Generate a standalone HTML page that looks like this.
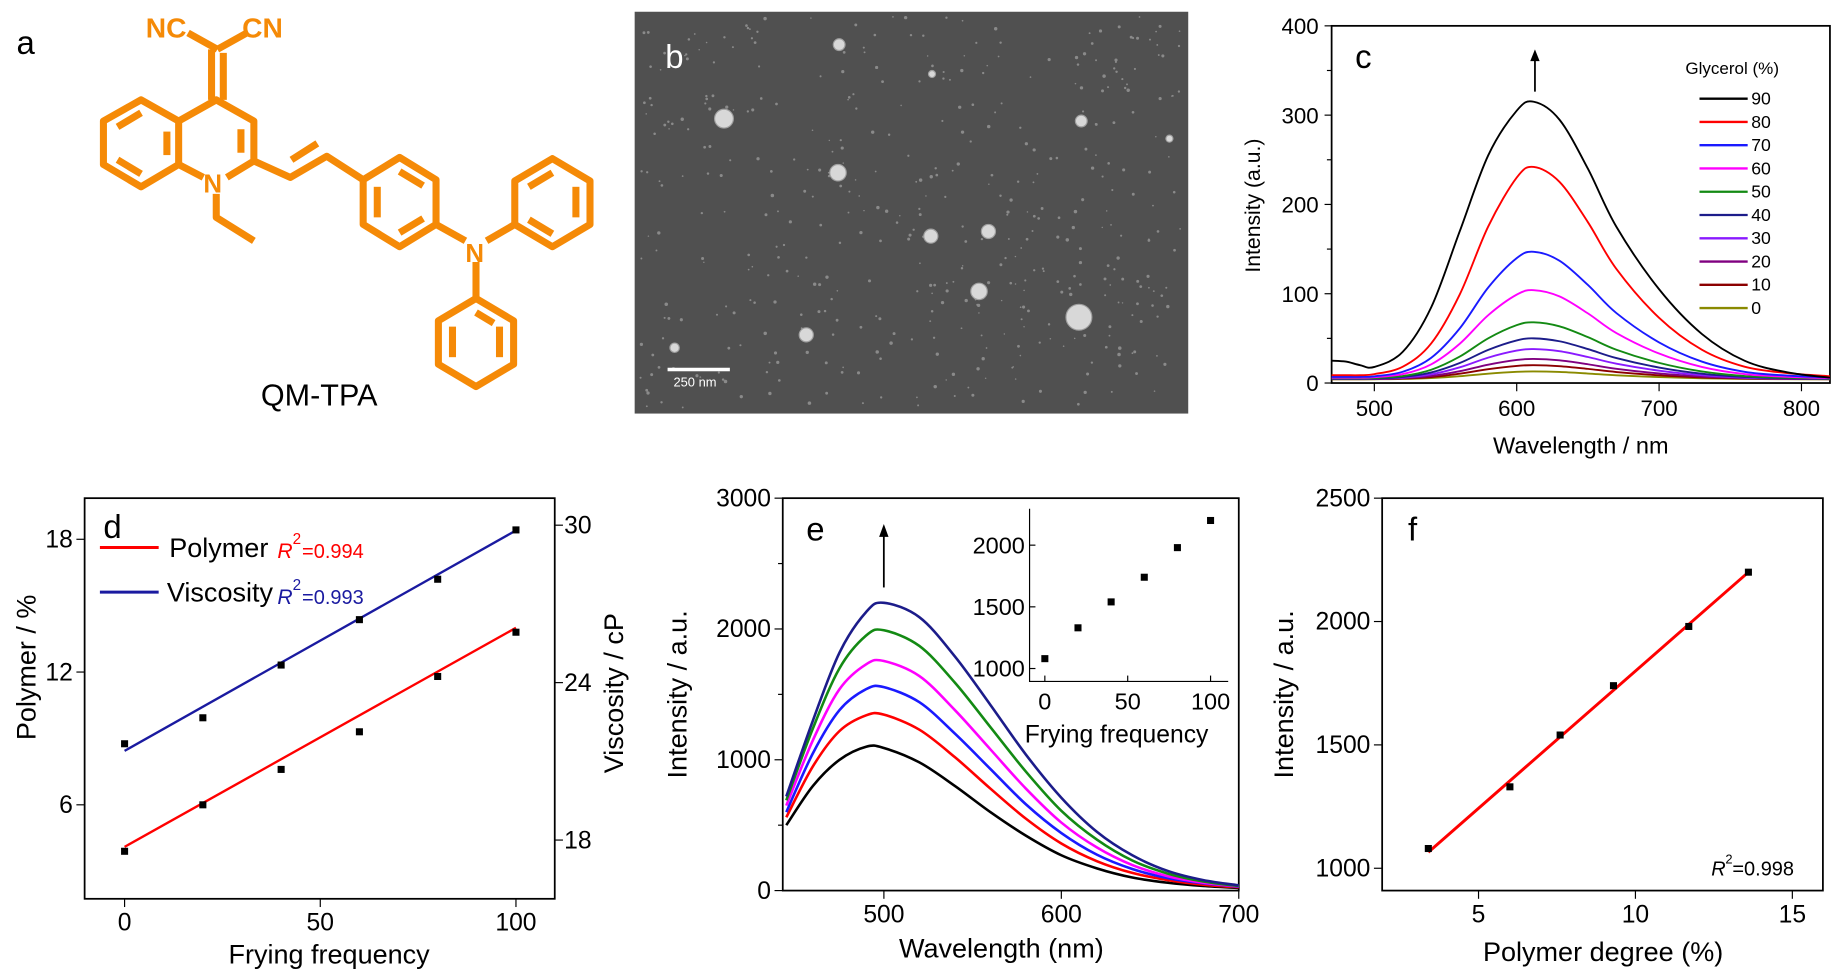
<!DOCTYPE html>
<html><head><meta charset="utf-8"><style>
html,body{margin:0;padding:0;background:#fff;}
svg{display:block;font-family:"Liberation Sans",sans-serif;}
</style></head><body>
<svg id="fig" width="1837" height="974" viewBox="0 0 1563 829" preserveAspectRatio="none">
<g id="pa" stroke="#f58a07" stroke-width="6" fill="none" stroke-linejoin="round">
<polygon points="120,85 152,103 152,140 120,159 88,140 88,103"/>
<polyline points="152,103 184,85 216,103 216,137 193,151"/>
<line x1="173" y1="151" x2="152" y2="140"/>
<line x1="100" y1="108" x2="120" y2="96"/><line x1="142" y1="112" x2="142" y2="132"/><line x1="100" y1="136" x2="120" y2="148"/>
<line x1="205" y1="110" x2="205" y2="130"/>
<line x1="180" y1="85" x2="180" y2="42"/><line x1="190" y1="85" x2="190" y2="45"/>
<line x1="185" y1="42" x2="160" y2="28"/><line x1="185" y1="42" x2="210" y2="28"/>
<polyline points="184,165 184,185 216,205"/>
<polyline points="216,137 247,151 278,133 309,153"/>
<line x1="248" y1="136" x2="270" y2="122"/>
<polygon points="340,134 371,153 371,191 340,210 309,191 309,153"/>
<line x1="321" y1="159" x2="321" y2="185"/><line x1="340" y1="146" x2="360" y2="158"/><line x1="340" y1="198" x2="360" y2="186"/>
<line x1="371" y1="191" x2="396" y2="205"/><line x1="414" y1="205" x2="438" y2="191"/><line x1="405" y1="223" x2="405" y2="254"/>
<polygon points="470,135 502,154 502,191 470,210 438,191 438,154"/>
<line x1="490" y1="159" x2="490" y2="185"/><line x1="450" y1="159" x2="470" y2="147"/><line x1="450" y1="187" x2="470" y2="199"/>
<polygon points="405,254 437,273 437,310 405,329 373,310 373,273"/>
<line x1="385" y1="278" x2="385" y2="304"/><line x1="425" y1="278" x2="425" y2="304"/><line x1="405" y1="266" x2="420" y2="275"/>
</g>
<g fill="#f58a07" font-weight="bold" font-size="24">
<text x="124" y="32">NC</text><text x="206" y="32">CN</text>
<text x="173" y="164" font-size="22">N</text><text x="396" y="223" font-size="22">N</text>
</g>
<text x="14" y="46" font-size="28">a</text>
<text x="222" y="345" font-size="26">QM-TPA</text>
<g id="pb">
<rect x="540" y="10" width="471" height="342" fill="#505050"/>
</g>
<g id="pc"></g><g id="pd"></g><g id="pe"></g><g id="pf"></g>
</svg>
<script>
const NS="http://www.w3.org/2000/svg";
function mk(parent,tag,attrs,text){const e=document.createElementNS(NS,tag);for(const k in attrs)e.setAttribute(k,attrs[k]);if(text!==undefined)e.textContent=text;parent.appendChild(e);return e;}
function lin(d0,d1,p0,p1){return v=>p0+(v-d0)/(d1-d0)*(p1-p0);}
function smooth(pts){let d='M'+pts[0][0]+','+pts[0][1];
for(let i=0;i<pts.length-1;i++){const p0=pts[i-1]||pts[i],p1=pts[i],p2=pts[i+1],p3=pts[i+2]||p2;
const c1=[p1[0]+(p2[0]-p0[0])/6,p1[1]+(p2[1]-p0[1])/6],c2=[p2[0]-(p3[0]-p1[0])/6,p2[1]-(p3[1]-p1[1])/6];
d+=' C'+c1[0]+','+c1[1]+' '+c2[0]+','+c2[1]+' '+p2[0]+','+p2[1];}return d;}

// ---- SEM texture ----
const pb=document.getElementById('pb');
let seed=7;function rnd(){seed=(seed*16807)%2147483647;return seed/2147483647;}
for(let i=0;i<450;i++){const d=mk(pb,'circle',{cx:545+rnd()*461,cy:14+rnd()*334,r:0.6+rnd()*0.9,fill:'#8a8a8a'});

}
const particles=[[714,38,5],[616,101,8],[713,147,7],[792,201,6],[841,197,6],[920,103,5],[833,248,7],[918,270,11],[686,285,6],[574,296,4],[995,118,3],[793,63,3]];
particles.forEach(p=>{const c=mk(pb,'circle',{cx:p[0],cy:p[1],r:p[2],fill:'#d8d8d8',stroke:'#a0a0a0','stroke-width':1});

});
mk(pb,'text',{x:566,y:58,'font-size':28,fill:'#fff'},'b');
mk(pb,'rect',{x:568,y:313,width:53,height:3,fill:'#fff'});
mk(pb,'text',{x:573,y:329,'font-size':11,fill:'#fff'},'250 nm');

// ---- Panel c data ----
const cWave=[470,480,490,500,520,540,560,580,600,612,630,650,670,700,730,760,790,820];
const cShape=[0.02,0.02,0.02,0.025,0.06,0.17,0.4,0.72,0.95,1.0,0.93,0.74,0.52,0.29,0.14,0.06,0.03,0.015];
const cLevels=['90','80','70','60','50','40','30','20','10','0'];
const cPeaks=[315,242,147,104,68,50,38,27,20,13];
const c90=[25,24,20,18,35,85,170,255,305,315,295,240,175,105,55,25,12,6];
const cColors=['#000','#f00','#1a1aff','#ff00ff','#138a13','#1c1c8a','#8a1aff','#800080','#8b0000','#8a8a00'];
const cTicksY=[0,100,200,300,400];const cTicksX=[500,600,700,800];
(function(){
const g=document.getElementById('pc');


const X=lin(470,820,1133,1557),Y=lin(0,400,326,22);
mk(g,'rect',{x:1133,y:22,width:424,height:304,fill:'none',stroke:'#000','stroke-width':1.5});
cTicksY.forEach(t=>{mk(g,'line',{x1:1133,x2:1127,y1:Y(t),y2:Y(t),stroke:'#000'});
const l=mk(g,'text',{x:1122,y:Y(t)+7,'font-size':19,'text-anchor':'end'},t);

});
[50,150,250,350].forEach(t=>mk(g,'line',{x1:1133,x2:1129,y1:Y(t),y2:Y(t),stroke:'#000'}));
cTicksX.forEach(t=>{mk(g,'line',{x1:X(t),x2:X(t),y1:326,y2:333,stroke:'#000'});
const l=mk(g,'text',{x:X(t),y:354,'font-size':19,'text-anchor':'middle'},t);

});
const yt=mk(g,'text',{transform:'translate(1072,175) rotate(-90)','font-size':18,'text-anchor':'middle'},'Intensity (a.u.)');


const xt=mk(g,'text',{x:1345,y:386,'font-size':20,'text-anchor':'middle'},'Wavelength / nm');


for(let i=cLevels.length-1;i>=0;i--){
 const vals=i===0?c90:cShape.map(s=>s*cPeaks[i]+4*(1-s));
 const p=mk(g,'path',{d:smooth(cWave.map((w,k)=>[X(w),Y(vals[k])])),fill:'none',stroke:cColors[i],'stroke-width':1.6});
 
 
 const ly=84+i*19.8;
 mk(g,'line',{x1:1446,x2:1487,y1:ly,y2:ly,stroke:cColors[i],'stroke-width':2});
 const lt=mk(g,'text',{x:1490,y:ly+5,'font-size':15},cLevels[i]);
 
 
}
mk(g,'text',{x:1434,y:63,'font-size':14.5},'Glycerol (%)');
mk(g,'text',{x:1153,y:58,'font-size':28},'c');
mk(g,'line',{x1:1306,x2:1306,y1:78,y2:50,stroke:'#000','stroke-width':1.5});
mk(g,'polygon',{points:'1302,52 1310,52 1306,42',fill:'#000'});
})();

// ---- Panel d data ----
const dFreq=[0,20,40,60,80,100];
const dPolymer=[3.9,6.0,7.6,9.3,11.8,13.8];
const dViscosity=[21.67,22.66,24.67,26.4,27.94,29.82];
const dPolyFit=[4.1,14.0];const dViscFit=[21.4,29.8];
const dTicksX=[0,50,100];const dTicksL=[6,12,18];const dTicksR=[18,24,30];
(function(){
const g=document.getElementById('pd');


const X=lin(0,100,106,439),YL=lin(6,18,685,459),YR=lin(18,30,715,447);
mk(g,'rect',{x:72,y:424,width:400,height:341,fill:'none',stroke:'#000','stroke-width':1.5});
dTicksX.forEach(t=>{mk(g,'line',{x1:X(t),x2:X(t),y1:765,y2:772,stroke:'#000'});
const l=mk(g,'text',{x:X(t),y:792,'font-size':21,'text-anchor':'middle'},t);

});
dTicksL.forEach(t=>{mk(g,'line',{x1:72,x2:65,y1:YL(t),y2:YL(t),stroke:'#000'});
const l=mk(g,'text',{x:62,y:YL(t)+7,'font-size':21,'text-anchor':'end'},t);

});
dTicksR.forEach(t=>{mk(g,'line',{x1:472,x2:479,y1:YR(t),y2:YR(t),stroke:'#000'});
const l=mk(g,'text',{x:480,y:YR(t)+7,'font-size':21},t);

});
const pf=mk(g,'line',{x1:X(0),y1:YL(dPolyFit[0]),x2:X(100),y2:YL(dPolyFit[1]),stroke:'#f00','stroke-width':2});


const vf=mk(g,'line',{x1:X(0),y1:YR(dViscFit[0]),x2:X(100),y2:YR(dViscFit[1]),stroke:'#1a1aa0','stroke-width':2});


dFreq.forEach((f,i)=>{
const a=mk(g,'rect',{x:X(f)-3,y:YL(dPolymer[i])-3,width:6,height:6,fill:'#000'});


const b=mk(g,'rect',{x:X(f)-3,y:YR(dViscosity[i])-3,width:6,height:6,fill:'#000'});

});
mk(g,'text',{x:88,y:458,'font-size':28},'d');
mk(g,'line',{x1:85,x2:135,y1:466,y2:466,stroke:'#f00','stroke-width':2.5});
mk(g,'text',{x:144,y:474,'font-size':23},'Polymer');
mk(g,'text',{x:236,y:475,'font-size':18,fill:'#f00','font-style':'italic'},'R');
mk(g,'text',{x:249,y:463,'font-size':13,fill:'#f00'},'2');
mk(g,'text',{x:257,y:475,'font-size':17,fill:'#f00'},'=0.994');
mk(g,'line',{x1:85,x2:135,y1:504,y2:504,stroke:'#1a1aa0','stroke-width':2.5});
mk(g,'text',{x:142,y:512,'font-size':23},'Viscosity');
mk(g,'text',{x:236,y:514,'font-size':18,fill:'#1a1aa0','font-style':'italic'},'R');
mk(g,'text',{x:249,y:502,'font-size':13,fill:'#1a1aa0'},'2');
mk(g,'text',{x:257,y:514,'font-size':17,fill:'#1a1aa0'},'=0.993');
const yt=mk(g,'text',{transform:'translate(30,568) rotate(-90)','font-size':23,'text-anchor':'middle'},'Polymer / %');


const yr=mk(g,'text',{transform:'translate(530,590) rotate(-90)','font-size':23,'text-anchor':'middle'},'Viscosity / cP');


const xt=mk(g,'text',{x:280,y:820,'font-size':23,'text-anchor':'middle'},'Frying frequency');


})();

// ---- Panel e data ----
const eWave=[445,460,475,490,500,520,540,560,580,600,620,640,660,680,700];
const eBlack=[500,800,1000,1100,1090,980,800,600,420,270,170,100,60,35,20];
const eRed=[560,950,1220,1340,1345,1230,1020,780,550,360,225,135,80,45,25];
const eBlue=[600,1050,1380,1540,1555,1440,1200,930,660,440,275,165,95,55,30];
const eMagenta=[650,1150,1540,1730,1755,1640,1380,1080,780,520,330,195,110,60,32];
const eGreen=[690,1240,1700,1950,1990,1870,1590,1250,910,610,390,230,130,70,35];
const eNavy=[720,1300,1820,2130,2200,2090,1790,1420,1040,710,450,270,150,80,40];
const eColors=['#000','#f00','#1a1aff','#ff00ff','#138a13','#1c1c8a'];
const eFreq=[0,20,40,60,80,100];const ePeak=[1080,1330,1540,1740,1980,2200];
const eTicksY=[0,1000,2000,3000];const eTicksX=[500,600,700];
const eInsetTY=[1000,1500,2000];const eInsetTX=[0,50,100];
(function(){
const g=document.getElementById('pe');


const X=lin(443,700,666,1054),Y=lin(0,3000,758,424);
mk(g,'rect',{x:666,y:424,width:388,height:334,fill:'none',stroke:'#000','stroke-width':1.5});
eTicksY.forEach(t=>{mk(g,'line',{x1:666,x2:659,y1:Y(t),y2:Y(t),stroke:'#000'});
const l=mk(g,'text',{x:656,y:Y(t)+7,'font-size':21,'text-anchor':'end'},t);

});
[500,1500,2500].forEach(t=>mk(g,'line',{x1:666,x2:662,y1:Y(t),y2:Y(t),stroke:'#000'}));
eTicksX.forEach(t=>{mk(g,'line',{x1:X(t),x2:X(t),y1:758,y2:765,stroke:'#000'});
const l=mk(g,'text',{x:X(t),y:785,'font-size':21,'text-anchor':'middle'},t);

});
[eBlack,eRed,eBlue,eMagenta,eGreen,eNavy].forEach((s,i)=>{
const p=mk(g,'path',{d:smooth(eWave.map((w,k)=>[X(w),Y(s[k])])),fill:'none',stroke:eColors[i],'stroke-width':2.2});

});
mk(g,'text',{x:686,y:460,'font-size':28},'e');
mk(g,'line',{x1:752,x2:752,y1:500,y2:455,stroke:'#000','stroke-width':1.5});
mk(g,'polygon',{points:'748,457 756,457 752,446',fill:'#000'});
const yt=mk(g,'text',{transform:'translate(584,591) rotate(-90)','font-size':23,'text-anchor':'middle'},'Intensity / a.u.');


const xt=mk(g,'text',{x:852,y:815,'font-size':23,'text-anchor':'middle'},'Wavelength (nm)');


const IX=lin(0,100,889,1030),IY=lin(1000,2000,569,464);
mk(g,'polyline',{points:'876,433 876,580 1045,580',fill:'none',stroke:'#000'});
eInsetTY.forEach(t=>{mk(g,'line',{x1:876,x2:881,y1:IY(t),y2:IY(t),stroke:'#000'});
const l=mk(g,'text',{x:872,y:IY(t)+7,'font-size':20,'text-anchor':'end'},t);

});
eInsetTX.forEach(t=>{mk(g,'line',{x1:IX(t),x2:IX(t),y1:580,y2:575,stroke:'#000'});
const l=mk(g,'text',{x:IX(t),y:604,'font-size':20,'text-anchor':'middle'},t);

});
eFreq.forEach((f,i)=>{const r=mk(g,'rect',{x:IX(f)-3,y:IY(ePeak[i])-3,width:6,height:6,fill:'#000'});

});
mk(g,'text',{x:950,y:632,'font-size':21,'text-anchor':'middle'},'Frying frequency');
})();

// ---- Panel f data ----
const fPoly=[3.4,6.0,7.6,9.3,11.7,13.6];
const fInt=[1080,1330,1540,1740,1980,2200];
const fFit=[[3.4,1065],[13.6,2200]];
const fTicksY=[1000,1500,2000,2500];const fTicksX=[5,10,15];
(function(){
const g=document.getElementById('pf');


const X=lin(5,15,1258,1525),Y=lin(1000,2500,739,424);
mk(g,'rect',{x:1176,y:424,width:375,height:334,fill:'none',stroke:'#000','stroke-width':1.5});
fTicksY.forEach(t=>{mk(g,'line',{x1:1176,x2:1169,y1:Y(t),y2:Y(t),stroke:'#000'});
const l=mk(g,'text',{x:1166,y:Y(t)+7,'font-size':21,'text-anchor':'end'},t);

});
fTicksX.forEach(t=>{mk(g,'line',{x1:X(t),x2:X(t),y1:758,y2:765,stroke:'#000'});
const l=mk(g,'text',{x:X(t),y:785,'font-size':21,'text-anchor':'middle'},t);

});
const fl=mk(g,'line',{x1:X(fFit[0][0]),y1:Y(fFit[0][1]),x2:X(fFit[1][0]),y2:Y(fFit[1][1]),stroke:'#f00','stroke-width':2.5});


fPoly.forEach((p,i)=>{const r=mk(g,'rect',{x:X(p)-3,y:Y(fInt[i])-3,width:6,height:6,fill:'#000'});

});
mk(g,'text',{x:1198,y:460,'font-size':28},'f');
mk(g,'text',{x:1456,y:745,'font-size':17,'font-style':'italic'},'R');
mk(g,'text',{x:1468,y:735,'font-size':11},'2');
mk(g,'text',{x:1474,y:745,'font-size':17},'=0.998');
const yt=mk(g,'text',{transform:'translate(1100,591) rotate(-90)','font-size':23,'text-anchor':'middle'},'Intensity / a.u.');


const xt=mk(g,'text',{x:1364,y:818,'font-size':23,'text-anchor':'middle'},'Polymer degree (%)');


})();
</script>
</body></html>
